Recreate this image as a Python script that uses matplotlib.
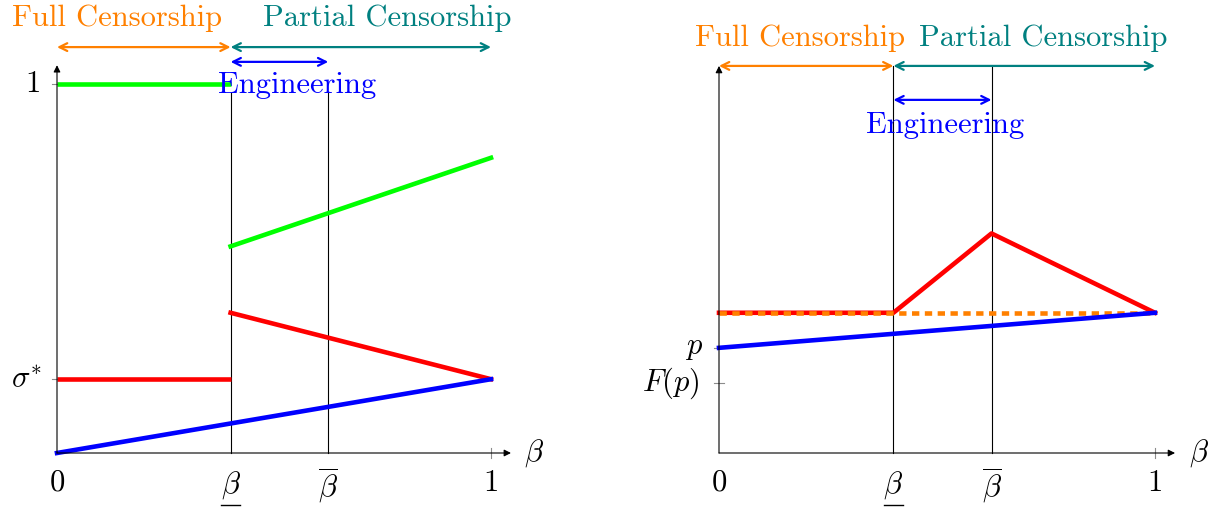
import matplotlib
matplotlib.use("Agg")
import matplotlib.pyplot as plt

plt.rcParams["font.family"] = "cmr10"
plt.rcParams["mathtext.fontset"] = "cm"
plt.rcParams["axes.unicode_minus"] = False

# thresholds on the beta axis
beta_lo = 0.4
beta_hi = 0.625

# left panel
sigma_star = 0.2
green_full = 1.0
green_partial = [0.56, 0.80]      # at beta_lo, 1
red_partial = [0.38, sigma_star]  # at beta_lo, 1
blue_left = [0.0, sigma_star]     # at 0, 1

# right panel
p_val = 0.285
fp_val = 0.19
red_right_x = [0, beta_lo, beta_hi, 1]
red_right_y = [0.38, 0.38, 0.595, 0.38]
blue_right = [p_val, 0.38]
orange_level = 0.38

ORANGE = "#ff8000"
TEAL = "#008080"
BLUE = "#0000ff"
RED = "#ff0000"
GREEN = "#00ff00"
FS = 22
LW = 3.3

fig = plt.figure(figsize=(12.15, 5.08), dpi=100)
ax1 = fig.add_axes([57 / 1215, 55 / 508, 434 / 1215, 369 / 508])
ax2 = fig.add_axes([719 / 1215, 55 / 508, 436 / 1215, 369 / 508])


def span(ax, x0, x1, y, color):
    ax.annotate("", xy=(x1, y), xytext=(x0, y), annotation_clip=False,
                arrowprops=dict(arrowstyle="<->", color=color, lw=1.6,
                                shrinkA=0, shrinkB=0, mutation_scale=14))


def frame(ax, ytop):
    ax.set_xlim(0, 1)
    ax.set_ylim(0, 1)
    ax.axis("off")
    ax.annotate("", xy=(1.046, 0), xytext=(0, 0), annotation_clip=False,
                arrowprops=dict(arrowstyle="-|>", color="black", lw=0.8,
                                shrinkA=0, shrinkB=0, mutation_scale=10))
    ax.annotate("", xy=(0, ytop), xytext=(0, 0), annotation_clip=False,
                arrowprops=dict(arrowstyle="-|>", color="black", lw=0.8,
                                shrinkA=0, shrinkB=0, mutation_scale=10))
    ax.plot([1, 1], [-0.013, 0.013], color="0.55", lw=0.8, clip_on=False)
    ax.text(0, -0.081, "0", fontsize=FS, ha="center", va="center")
    ax.text(1, -0.081, "1", fontsize=FS, ha="center", va="center")
    ax.text(beta_lo, -0.088, r"$\beta$", fontsize=FS, ha="center", va="center")
    ax.plot([beta_lo - 0.022, beta_lo + 0.022], [-0.141, -0.141],
            color="black", lw=1.0, clip_on=False)
    ax.text(beta_hi, -0.088, r"$\overline{\beta}$", fontsize=FS,
            ha="center", va="center")
    ax.text(1.1, 0, r"$\beta$", fontsize=FS, ha="center", va="center")


def ytick(ax, y, label, xr):
    ax.plot([-0.012, 0.012], [y, y], color="0.55", lw=0.8, clip_on=False)
    ax.text(xr, y, label, fontsize=FS, ha="right", va="center")


# ---- left panel ----
frame(ax1, 1.051)
for xb in (beta_lo, beta_hi):
    ax1.plot([xb, xb], [0, 0.975], color="black", lw=0.8, clip_on=False)
ytick(ax1, 1.0, "1", -0.038)
ytick(ax1, sigma_star, r"$\sigma^{*}$", -0.035)

ax1.plot([0, beta_lo], [green_full, green_full], color=GREEN, lw=LW,
         clip_on=False, solid_capstyle="butt")
ax1.plot([beta_lo, 1], green_partial, color=GREEN, lw=LW, clip_on=False)
ax1.plot([0, beta_lo], [sigma_star, sigma_star], color=RED, lw=LW,
         clip_on=False, solid_capstyle="butt")
ax1.plot([beta_lo, 1], red_partial, color=RED, lw=LW, clip_on=False)
ax1.plot([0, 1], blue_left, color=BLUE, lw=LW, clip_on=False)

span(ax1, 0, beta_lo, 1.100, ORANGE)
span(ax1, beta_lo, 1, 1.100, TEAL)
span(ax1, beta_lo, beta_hi, 1.060, BLUE)
ax1.text(0.138, 1.179, "Full Censorship", fontsize=FS, color=ORANGE,
         ha="center", va="center")
ax1.text(0.76, 1.179, "Partial Censorship", fontsize=FS, color=TEAL,
         ha="center", va="center")
ax1.text(0.553, 0.997, "Engineering", fontsize=FS, color=BLUE,
         ha="center", va="center")

# ---- right panel ----
frame(ax2, 1.049)
for xb in (beta_lo, beta_hi):
    ax2.plot([xb, xb], [0, 1.049], color="black", lw=0.8, clip_on=False)
ytick(ax2, p_val, r"$p$", -0.037)
ytick(ax2, fp_val, r"$F(p)$", -0.044)

ax2.plot(red_right_x, red_right_y, color=RED, lw=LW, clip_on=False)
ax2.plot([0, 1], [orange_level, orange_level], color=ORANGE, lw=LW,
         dashes=(1.6, 1.2), clip_on=False)
ax2.plot([0, 1], blue_right, color=BLUE, lw=LW, clip_on=False)

span(ax2, 0, beta_lo, 1.049, ORANGE)
span(ax2, beta_lo, 1, 1.049, TEAL)
span(ax2, beta_lo, beta_hi, 0.957, BLUE)
ax2.text(0.186, 1.125, "Full Censorship", fontsize=FS, color=ORANGE,
         ha="center", va="center")
ax2.text(0.743, 1.125, "Partial Censorship", fontsize=FS, color=TEAL,
         ha="center", va="center")
ax2.text(0.518, 0.889, "Engineering", fontsize=FS, color=BLUE,
         ha="center", va="center")

fig.savefig("out.png", dpi=100)
